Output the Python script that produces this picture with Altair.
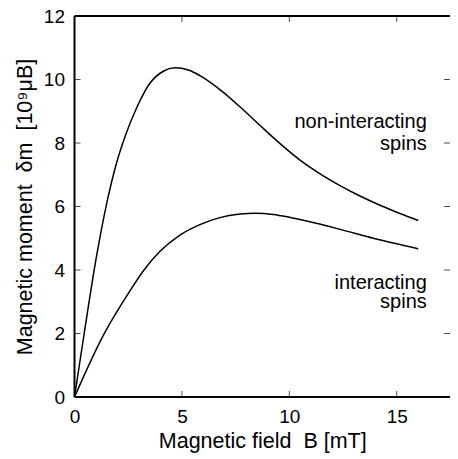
import altair as alt
import pandas as pd

# Non-interacting spins
B_non = [0, 0.45, 1.03, 1.5, 1.96, 2.43, 2.9, 3.51, 4.13, 4.68, 5.3, 5.84, 6.77, 7.7, 8.64, 9.57, 10.5, 11.43, 12.36, 13.29, 14.22, 15.15, 16.0]
m_non = [0, 2.0, 4.45, 6.1, 7.38, 8.35, 9.12, 9.88, 10.26, 10.37, 10.3, 10.12, 9.68, 9.14, 8.55, 7.98, 7.46, 7.03, 6.66, 6.33, 6.04, 5.78, 5.56]

# Interacting spins
B_int = [0, 1.34, 2.58, 3.2, 3.98, 4.91, 5.84, 6.77, 7.7, 8.4, 9.26, 10.0, 10.81, 12.36, 13.91, 16.0]
m_int = [0, 1.94, 3.34, 3.97, 4.59, 5.10, 5.43, 5.65, 5.76, 5.79, 5.75, 5.66, 5.54, 5.28, 5.0, 4.67]

label_text = ["non-interacting", "spins", "interacting", "spins"]
label_B = [16.4, 16.4, 16.4, 16.4]
label_m = [8.66, 7.98, 3.6, 2.98]

x_ticks = [0, 5, 10, 15]
y_ticks = [0, 2, 4, 6, 8, 10, 12]
X_MAX = 17.48
Y_MAX = 12

FONT = "Liberation Sans"

df = pd.concat([
    pd.DataFrame({"B": B_non, "m": m_non, "series": "non"}),
    pd.DataFrame({"B": B_int, "m": m_int, "series": "int"}),
])
lab = pd.DataFrame({"B": label_B, "m": label_m, "text": label_text})

xscale = alt.Scale(domain=[0, X_MAX], nice=False, zero=False)
yscale = alt.Scale(domain=[0, Y_MAX], nice=False)

xaxis = alt.Axis(
    values=x_ticks, orient="bottom", ticks=False, domain=False, grid=False, labelFlush=False,
    labelFont=FONT, labelFontSize=19, labelColor="black", labelPadding=10,
    title="Magnetic field\u00a0\u00a0B [mT]", titleFont=FONT, titleFontSize=21.5,
    titleFontWeight="normal", titleColor="black", titlePadding=4)
yaxis = alt.Axis(
    values=y_ticks, orient="left", ticks=False, domain=False, grid=False, labelFlush=False,
    labelFont=FONT, labelFontSize=19, labelColor="black", labelPadding=10,
    title="Magnetic moment\u00a0\u00a0δm\u00a0\u00a0[10⁹μB]", titleFont=FONT, titleFontSize=21.5,
    titleFontWeight="normal", titleColor="black", titlePadding=7)

X = alt.X("B:Q", scale=xscale, axis=xaxis)
Y = alt.Y("m:Q", scale=yscale, axis=yaxis)

lines = alt.Chart(df).mark_line(color="black", strokeWidth=1.5, interpolate="monotone", clip=True).encode(
    x=X, y=Y, detail="series:N",
)

# frame: left, bottom, top (right edge lies outside the picture in the reference)
frame_v = pd.DataFrame({"B": [0], "m": [0], "m2": [Y_MAX]})
frame_h = pd.DataFrame({"B": [0, 0], "B2": [X_MAX, X_MAX], "m": [0, Y_MAX]})
fv = alt.Chart(frame_v).mark_rule(color="black", strokeWidth=2).encode(x=X, y=Y, y2="m2:Q")
fh = alt.Chart(frame_h).mark_rule(color="black", strokeWidth=2).encode(x=X, x2="B2:Q", y=Y)

# inward tick marks
xt = pd.DataFrame({"B": x_ticks * 2, "m": [0] * len(x_ticks) + [Y_MAX] * len(x_ticks),
                   "side": ["b"] * len(x_ticks) + ["t"] * len(x_ticks)})
yt = pd.DataFrame({"B": [0] * len(y_ticks) + [X_MAX] * len(y_ticks), "m": y_ticks * 2,
                   "side": ["l"] * len(y_ticks) + ["r"] * len(y_ticks)})

def xtick(side, off):
    return alt.Chart(xt[xt.side == side]).mark_tick(orient="vertical", size=6, thickness=1, color="black", yOffset=off).encode(
        x=X, y=Y)

def ytick(side, off):
    return alt.Chart(yt[yt.side == side]).mark_tick(orient="horizontal", size=6, thickness=1, color="black", xOffset=off).encode(
        x=X, y=Y)

texts = alt.Chart(lab).mark_text(align="right", baseline="middle", font=FONT, fontSize=20, color="black").encode(
    x=X, y=Y, text="text:N",
)

chart = alt.layer(lines, fv, fh, xtick("b", -3), xtick("t", 3), ytick("l", 3), ytick("r", -3), texts).properties(
    width=375.5, height=381,
    background="white",
    autosize=alt.AutoSizeParams(type="none"),
    padding={"left": 66.5, "top": 8, "right": 0, "bottom": 60},
).configure_view(stroke=None)

chart.save("out.html", embed_options={"renderer": "svg", "actions": False})
